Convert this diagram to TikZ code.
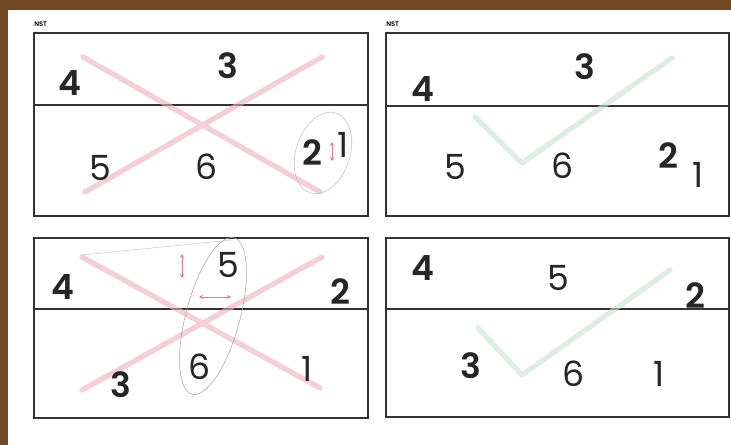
\documentclass[tikz,border=0pt]{standalone}
\usepackage{fontspec}
\setmainfont{Poppins}[BoldFont={Poppins SemiBold}]
\usepackage{tikz}
\usetikzlibrary{arrows.meta, positioning, calc}
\definecolor{woodbrown}{RGB}{112,72,38}
\definecolor{crosspink}{RGB}{238,176,188}
\definecolor{tickgreen}{RGB}{200,228,208}
\definecolor{nudgepink}{RGB}{226,120,150}

\begin{document}
\begin{tikzpicture}[x=0.75pt, y=-0.75pt, >=Stealth]
  \tikzset{
    panel/.style={draw=black!80, line width=2.2pt},
    num/.style={font=\fontsize{26}{26}\selectfont, text=black!85, inner sep=0pt},
    bnum/.style={num, font=\fontsize{26}{26}\selectfont\bfseries},
    tag/.style={font=\fontsize{5}{5}\selectfont\bfseries, inner sep=0pt},
    cross/.style={crosspink, line width=4pt, line cap=round, opacity=0.6},
    tick/.style={tickgreen, line width=4pt, line cap=round, line join=round, opacity=0.6},
    hint/.style={draw=black!35, line width=0.4pt},
    nudge/.style={<->, nudgepink, line width=0.6pt, >={Stealth[length=3pt, width=3pt]}}
  }
  % wooden frame and sheet
  \fill[woodbrown] (0,0) rectangle (731,445);
  \fill[white] (8,10) rectangle (731,445);
  \useasboundingbox (0,0) rectangle (731,445);

  % panels
  \draw[panel] (34,33) rectangle (368,216) (34,105) -- (368,105);
  \draw[panel] (386,33) rectangle (729,216) (386,106) -- (729,106);
  \draw[panel] (34,238) rectangle (368,418) (34,309) -- (368,309);
  \draw[panel] (386,238) rectangle (729,417) (386,309) -- (729,309);
  \node[tag, anchor=south west] (tagleft) at (34,27) {NST};
  \node[tag, anchor=south west] (tagright) at (386,27) {NST};

  % marks behind the digits
  \draw[cross] (83,57) -- (320,192) (322,57) -- (85,192);
  \draw[tick] (475,117) -- (522,163) -- (672,58);
  \draw[cross] (82,257) -- (320,388) (322,257) -- (82,390);
  \draw[tick] (478,328) -- (522,375) -- (670,270);

  % top left
  \node[bnum] (tlfour) at (70,83) {4};
  \node[bnum] (tlthree) at (228,66) {3};
  \node[num] (tlfive) at (100,168) {5};
  \node[num] (tlsix) at (207,167) {6};
  \node[bnum] (tltwo) at (312,153) {2};
  \node[num] (tlone) at (343,145) {1};
  \draw[hint, black!25, rotate around={-18:(323,153)}] (323,153) ellipse (27 and 42);
  \draw[nudge] (332,142) -- (332,161);

  % top right
  \node[bnum] (trfour) at (423,89) {4};
  \node[bnum] (trthree) at (585,67) {3};
  \node[num] (trfive) at (455,167) {5};
  \node[num] (trsix) at (562,166) {6};
  \node[bnum] (trtwo) at (668,156) {2};
  \node[num] (trone) at (698,175) {1};

  % bottom left
  \node[bnum] (blfour) at (63,287) {4};
  \node[num] (blfive) at (228,265) {5};
  \node[bnum] (bltwo) at (340,292) {2};
  \node[bnum] (blthree) at (121,385) {3};
  \node[num] (blsix) at (200,367) {6};
  \node[num] (blone) at (307,369) {1};
  \draw[hint, rotate around={-15:(213,316)}] (213,316) ellipse (27 and 81);
  \draw[hint, black!20] (82,255) -- (232,240);
  \draw[nudge] (182,254) -- (182,278);
  \draw[nudge] (199,297) -- (231,297);

  % bottom right
  \node[bnum] (brfour) at (423,268) {4};
  \node[num] (brfive) at (558,278) {5};
  \node[bnum] (brtwo) at (695,296) {2};
  \node[bnum] (brthree) at (471,366) {3};
  \node[num] (brsix) at (573,374) {6};
  \node[num] (brone) at (659,374) {1};
\end{tikzpicture}
\end{document}
